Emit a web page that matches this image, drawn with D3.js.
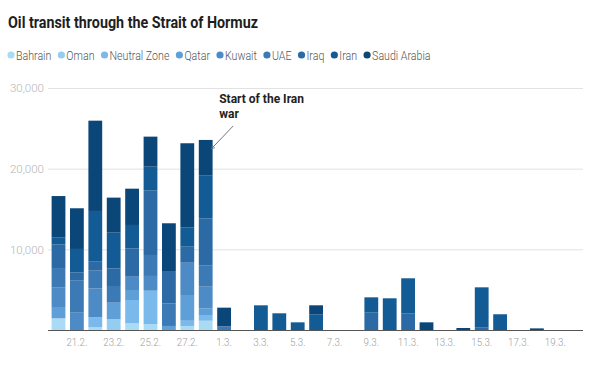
<!DOCTYPE html>
<html><head><meta charset="utf-8">
<script src="https://cdn.jsdelivr.net/npm/d3@7"></script>
<style>body{margin:0;background:#fff} svg{display:block}</style>
</head><body>
<svg id="chart" width="600" height="366"></svg>
<script>
const dates = ["20.2.","21.2.","22.2.","23.2.","24.2.","25.2.","26.2.","27.2.","28.2.",
  "1.3.","2.3.","3.3.","4.3.","5.3.","6.3.","7.3.","8.3.","9.3.","10.3.","11.3.",
  "12.3.","13.3.","14.3.","15.3.","16.3.","17.3.","18.3.","19.3.","20.3."];
const seriesNames = ["Bahrain","Oman","Neutral Zone","Qatar","Kuwait","UAE","Iraq","Iran","Saudi Arabia"];
const seriesColors = ["#a9dcf4","#94cdf1","#7ab9ec","#5f9fd8","#4d8bc7","#3c7ab6","#2b6aa4","#135b94","#0a4678"];
//                 20.2 21.2 22.2 23.2 24.2 25.2 26.2 27.2 28.2  1.3 2.3 3.3 4.3 5.3 6.3 7.3 8.3 9.3 10.3 11.3 12.3 13.3 14.3 15.3 16.3 17.3 18.3 19.3 20.3
const bahrain     = [1450,   0, 330,   0, 830, 745,   0, 500,1150,   0,0,0,0,0,0,0,0,0,0,0,0,0,0,0,0,0,0,0,0];
const oman        = [   0,   0,   0,1325,   0,   0,   0,   0,   0,   0,0,0,0,0,0,0,0,0,0,0,0,0,0,0,0,0,0,0,0];
const neutralZone = [   0,   0,1240,   0,2890,4130,   0, 650, 710,   0,0,0,0,0,0,0,0,0,0,0,0,0,0,0,0,0,0,0,0];
const qatar       = [1400,   0,   0,2065,1240,   0, 500,3190, 830,   0,0,0,0,0,0,0,0,0,0,0,0,0,0,0,0,0,0,0,0];
const kuwait      = [2400,2145,3600,   0,1650,1825,   0,4005,2680,   0,0,0,0,0,0,0,0,0,0,0,0,0,0,0,0,0,0,0,0];
const uae         = [2430,3970,2185,2066,   0,2600,2810,   0,2605, 450,0,0,0,0,0,0,0,0,0,0,0,0,0,0,0,0,0,0,0];
const iraq        = [2940,1040,1115,2194,3520,7975,4000,1985,5875,   0,0,0,0,0,0,0,0,2150,0,2070,0,0,0,290,0,0,0,0,0];
const iran        = [ 830,2890,6286,4420,2890,2975,   0,2360,5280,   0,0,3060,2070,950,1950,0,0,1900,3930,4340,0,0,0,5000,1950,0,0,0,0];
const saudiArabia = [5155,5045,11194,4340,4500,3720,5920,10460,4430,2320,0,0,0,0,1110,0,0,0,0,0,950,0,250,0,0,0,200,0,0];
const yTicks = [10000, 20000, 30000];
const xTickLabels = ["21.2.","23.2.","25.2.","27.2.","1.3.","3.3.","5.3.","7.3.","9.3.","11.3.","13.3.","15.3.","17.3.","19.3."];
const titleText = "Oil transit through the Strait of Hormuz";
const annotationDate = "28.2.";
const annotationLines = ["Start of the Iran", "war"];

const seriesValues = [bahrain, oman, neutralZone, qatar, kuwait, uae, iraq, iran, saudiArabia];
const rows = dates.map((d, i) => {
  const r = {date: d};
  seriesNames.forEach((s, k) => r[s] = seriesValues[k][i]);
  return r;
});
const color = d3.scaleOrdinal().domain(seriesNames).range(seriesColors);

const svg = d3.select("#chart");
const plotLeft = 48, plotRight = 583, plotTop = 88, plotBottom = 330;
const x = d3.scaleBand().domain(dates).range([49.3, 582.9]).paddingInner(0.25).paddingOuter(0.125);
const y = d3.scaleLinear().domain([0, 30000]).range([plotBottom, plotTop]);

function squeeze(sel, f) {
  sel.each(function () {
    const w = this.getComputedTextLength();
    d3.select(this).attr("textLength", w * f).attr("lengthAdjust", "spacingAndGlyphs");
  });
}

// Title
svg.append("text").attr("x", 8).attr("y", 28)
  .attr("font-family", "Roboto, 'Noto Sans', sans-serif").attr("font-weight", 700)
  .attr("font-size", 17).attr("fill", "#1e1e1e")
  .attr("textLength", 250).attr("lengthAdjust", "spacingAndGlyphs")
  .text(titleText);

// Legend
let cx = 11;
seriesNames.forEach(name => {
  const g = svg.append("g");
  g.append("circle").attr("cx", cx).attr("cy", 55).attr("r", 3.6).attr("fill", color(name));
  const t = g.append("text").attr("x", cx + 5).attr("y", 55).attr("dy", "0.36em")
    .attr("font-family", "Roboto, 'Noto Sans', sans-serif").attr("font-size", 12.5)
    .attr("font-weight", 300).attr("fill", "#555").text(name);
  squeeze(t, 0.85);
  cx = cx + 5 + (+t.attr("textLength")) + 10;
});

// Y grid and labels
const yAxis = svg.append("g").attr("transform", `translate(${plotLeft},0)`)
  .call(d3.axisLeft(y).tickValues(yTicks).tickSize(-(plotRight - plotLeft)).tickPadding(4).tickFormat(d3.format(",")));
yAxis.select(".domain").remove();
yAxis.selectAll(".tick line").attr("stroke", "#e2e2e2");
yAxis.selectAll(".tick text").attr("font-family", "Roboto, 'Noto Sans', sans-serif")
  .attr("font-size", 11.5).attr("font-weight", 300).attr("fill", "#b5b5b5");

// Bars
const stacked = d3.stack().keys(seriesNames)(rows);
svg.append("g").selectAll("g").data(stacked).join("g")
  .attr("fill", d => color(d.key))
  .selectAll("rect").data(d => d.filter(p => p[1] > p[0])).join("rect")
  .attr("x", d => x(d.data.date))
  .attr("width", x.bandwidth())
  .attr("y", d => y(d[1]))
  .attr("height", d => y(d[0]) - y(d[1]));

// X axis
const xAxis = svg.append("g").attr("transform", `translate(0,${plotBottom})`)
  .call(d3.axisBottom(x).tickValues(xTickLabels).tickSize(0).tickPadding(8));
xAxis.select(".domain").attr("stroke", "#555").attr("d", `M${plotLeft},0.5H${plotRight}`);
xAxis.selectAll(".tick text").attr("font-family", "Roboto, 'Noto Sans', sans-serif")
  .attr("font-size", 11.5).attr("font-weight", 300).attr("fill", "#a0a0a0");
squeeze(xAxis.selectAll(".tick text"), 0.85);

// Annotation
const annIdx = dates.indexOf(annotationDate);
const annTotal = seriesValues.reduce((s, arr) => s + arr[annIdx], 0);
const ax1 = x(annotationDate) + x.bandwidth() * 0.9;
const ay1 = y(annTotal) + 9;
const ax0 = ax1 + 22, ay0 = ay1 - 23;
svg.append("defs").append("marker").attr("id", "arr").attr("viewBox", "0 0 10 10")
  .attr("refX", 9).attr("refY", 5).attr("markerWidth", 5).attr("markerHeight", 5).attr("orient", "auto")
  .append("path").attr("d", "M1,1L9,5L1,9").attr("fill", "none").attr("stroke", "#666").attr("stroke-width", 1.5);
svg.append("line").attr("x1", ax0).attr("y1", ay0).attr("x2", ax1).attr("y2", ay1)
  .attr("stroke", "#666").attr("stroke-width", 0.9).attr("marker-end", "url(#arr)");
const annText = svg.append("text").attr("font-family", "Roboto, 'Noto Sans', sans-serif")
  .attr("font-weight", 700).attr("font-size", 12).attr("fill", "#222");
annotationLines.forEach((line, i) => {
  annText.append("tspan").attr("x", ax1 + 8).attr("y", 103 + i * 15).text(line);
});
</script>
</body></html>
